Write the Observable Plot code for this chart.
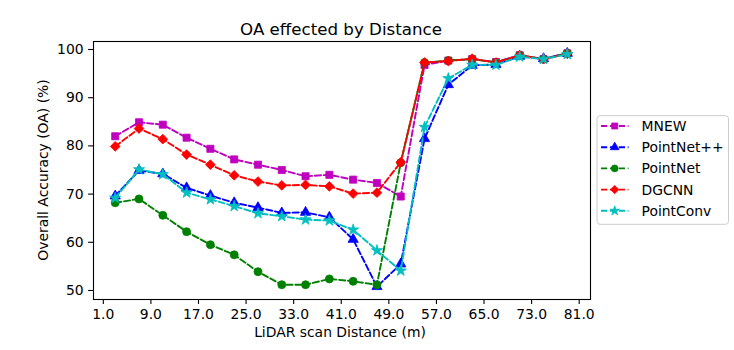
<!DOCTYPE html>
<html><head><meta charset="utf-8">
<script src="https://cdn.jsdelivr.net/npm/d3@7"></script>
<script src="https://cdn.jsdelivr.net/npm/@observablehq/plot@0.6"></script>
<style>body{margin:0;background:#fff} svg{display:block}</style>
</head><body><div id="chart"></div>
<script>
const distances = [3,7,11,15,19,23,27,31,35,39,43,47,51,55,59,63,67,71,75,79];
const mnew      = [82.0,84.9,84.4,81.7,79.4,77.2,76.1,75.0,73.7,74.0,73.0,72.3,69.5,96.8,97.7,98.0,97.4,98.8,98.0,99.2];
const pointnetpp= [69.6,74.9,74.2,71.3,69.7,68.2,67.2,66.1,66.2,65.2,60.6,50.8,55.5,81.5,92.7,96.7,96.9,98.6,98.1,99.2];
const pointnet  = [68.2,69.0,65.6,62.2,59.5,57.4,53.9,51.2,51.2,52.4,51.9,51.2,76.5,97.3,97.7,98.0,97.3,98.8,98.0,99.2];
const dgcnn     = [79.9,83.6,81.4,78.2,76.1,73.9,72.6,71.8,71.9,71.6,70.1,70.3,76.6,97.3,97.6,98.1,97.3,98.8,98.0,99.1];
const pointconv = [69.2,75.1,74.1,70.3,68.9,67.5,66.0,65.4,64.7,64.5,62.6,58.3,54.1,83.9,94.0,96.8,96.8,98.5,98.0,99.0];

const seriesNames = ["MNEW","PointNet++","PointNet","DGCNN","PointConv"];
const seriesValues = [mnew, pointnetpp, pointnet, dgcnn, pointconv];
const seriesColors = ["#bf00bf","#0000ff","#008000","#ff0000","#00bfbf"];
const seriesSymbols = ["square","triangle","circle","diamond2","star"];
const seriesR = [4.0,3.8,4.0,4.4,3.5];
const xTicks = d3.range(1, 82, 8);
const yTicks = [50,60,70,80,90,100];

const FONT = "'DejaVu Sans', sans-serif";
const FS = 13.9;

const marks = [];
seriesNames.forEach((name, i) => {
  const rows = distances.map((d, j) => ({x: d, y: seriesValues[i][j], s: name}));
  marks.push(Plot.line(rows, {x: "x", y: "y", stroke: seriesColors[i], strokeWidth: 1.9, strokeDasharray: "6.2,2.7"}));
  marks.push(Plot.dot(rows, {x: "x", y: "y", symbol: seriesSymbols[i], r: seriesR[i], fill: seriesColors[i], stroke: seriesColors[i], strokeWidth: 0.8}));
});

const chart = Plot.plot({
  width: 734, height: 350,
  marginLeft: 93, marginRight: 144, marginTop: 41, marginBottom: 51,
  style: {fontFamily: FONT, fontSize: FS + "px", color: "black", background: "white"},
  x: {domain: [-0.65, 82.9]},
  y: {domain: [48.13, 101.66]},
  marks: [
    Plot.axisX({ticks: xTicks, tickFormat: d => d.toFixed(1), tickSize: 4.9, tickPadding: 4.7, label: null, fontSize: FS, strokeWidth: 1.1}),
    Plot.axisY({ticks: yTicks, tickSize: 4.9, tickPadding: 5, label: null, fontSize: FS, strokeWidth: 1.1}),
    ...marks,
    Plot.frame({stroke: "black", strokeWidth: 1.1})
  ]
});

const svg = d3.select(chart);
svg.append("text").attr("x", 341).attr("y", 34.5).attr("text-anchor", "middle")
  .attr("font-family", FONT).attr("font-size", 16.67).attr("fill", "black").text("OA effected by Distance");
svg.append("text").attr("x", 340).attr("y", 337).attr("text-anchor", "middle")
  .attr("font-family", FONT).attr("font-size", FS).attr("fill", "black").text("LiDAR scan Distance (m)");
svg.append("text").attr("transform", "translate(47.5,170) rotate(-90)").attr("text-anchor", "middle")
  .attr("font-family", FONT).attr("font-size", FS).attr("fill", "black").text("Overall Accuracy (OA) (%)");

const lg = svg.append("g");
lg.append("rect").attr("x", 597).attr("y", 115.7).attr("width", 131.5).attr("height", 108.6).attr("rx", 3)
  .attr("fill", "white").attr("fill-opacity", 0.8).attr("stroke", "#cccccc").attr("stroke-width", 1);
seriesNames.forEach((name, i) => {
  const y = 126 + 21.2 * i;
  lg.append("line").attr("x1", 601).attr("x2", 628.5).attr("y1", y).attr("y2", y)
    .attr("stroke", seriesColors[i]).attr("stroke-width", 1.9).attr("stroke-dasharray", "6.2,2.7");
  const sym = {square: d3.symbolSquare, triangle: d3.symbolTriangle, circle: d3.symbolCircle, diamond2: d3.symbolDiamond2, star: d3.symbolStar}[seriesSymbols[i]];
  const r = seriesR[i] * 0.85;
  lg.append("path").attr("d", d3.symbol(sym, Math.PI * r * r)()).attr("transform", `translate(614.7,${y})`)
    .attr("fill", seriesColors[i]).attr("stroke", seriesColors[i]).attr("stroke-width", 0.8);
  lg.append("text").attr("x", 641.5).attr("y", y).attr("dy", "0.36em").attr("text-anchor", "start")
    .attr("font-family", FONT).attr("font-size", FS).attr("fill", "black").text(name);
});

document.getElementById("chart").appendChild(chart);
</script>
</body></html>
